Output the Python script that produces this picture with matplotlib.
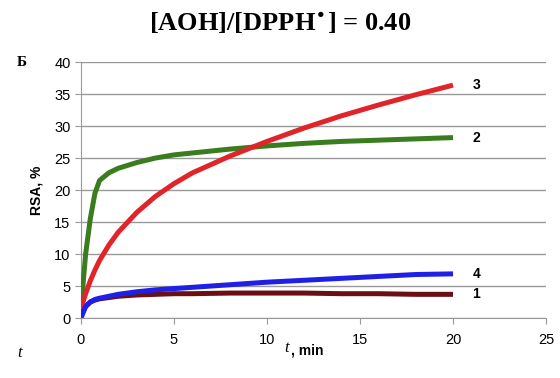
import matplotlib
matplotlib.use('Agg')
import matplotlib.pyplot as plt

# Tiempo (min) y curvas RSA (%)
t_min = [0, 0.25, 0.5, 0.75, 1, 1.5, 2, 3, 4, 5, 6, 8, 10, 12, 14, 16, 18, 20]
rsa_1 = [0.5, 1.8, 2.5, 2.8, 3.0, 3.2, 3.4, 3.6, 3.7, 3.8, 3.8, 3.9, 3.9, 3.9, 3.8, 3.8, 3.7, 3.7]
rsa_2 = [1.5, 10.0, 15.5, 19.5, 21.5, 22.7, 23.4, 24.3, 25.0, 25.5, 25.8, 26.4, 26.9, 27.3, 27.6, 27.8, 28.0, 28.2]
rsa_3 = [1.5, 3.8, 5.8, 7.5, 9.0, 11.4, 13.4, 16.5, 19.0, 21.0, 22.7, 25.3, 27.6, 29.7, 31.6, 33.3, 34.9, 36.4]
rsa_4 = [0.0, 1.8, 2.5, 2.9, 3.1, 3.4, 3.7, 4.1, 4.4, 4.6, 4.8, 5.2, 5.6, 5.9, 6.2, 6.5, 6.8, 6.9]

series = [('1', rsa_1, '#6b0f12'), ('2', rsa_2, '#3a7d1e'),
          ('3', rsa_3, '#e0252a'), ('4', rsa_4, '#1f1fe8')]
plt.rcParams['font.family'] = ['Liberation Sans', 'DejaVu Sans']

fig = plt.figure(figsize=(5.6, 3.78), dpi=100)
ax = fig.add_axes([0.1446, 0.1587, 0.8304, 0.677])

for nombre, y, color in series:
    ax.plot(t_min, y, color=color, lw=3.6, solid_capstyle='butt', zorder=3)
    ax.annotate(nombre, (t_min[-1], y[-1]), xytext=(14, 0), textcoords='offset points',
                va='center', ha='left', fontsize=10, fontweight='bold')

ax.set_xlim(0, 25)
ax.set_ylim(0, 40)
ax.set_xticks(range(0, 26, 5))
ax.set_yticks(range(0, 41, 5))
ax.yaxis.grid(True, color='#999999', lw=1.0)
ax.set_axisbelow(True)
for s in ['top', 'right']:
    ax.spines[s].set_visible(False)
for s in ['left', 'bottom']:
    ax.spines[s].set_color('#999999')
ax.tick_params(axis='both', colors='#999999', labelcolor='black', labelsize=10.5, length=4)
ax.tick_params(axis='x', pad=7)

ax.set_ylabel('RSA, %', fontsize=10, fontweight='bold', labelpad=8)
fig.text(0.515, 0.068, 't', fontsize=12, style='italic', family='Liberation Serif', ha='right')
fig.text(0.52, 0.063, ', min', fontsize=10, fontweight='bold', ha='left')
fig.text(0.03, 0.055, 't', fontsize=12, style='italic', family='Liberation Serif')
fig.text(0.03, 0.825, 'Б', fontsize=11, fontweight='bold', family='Liberation Serif')
fig.text(0.5, 0.94, r'[AOH]/[DPPH$^{\bullet}$] = 0.40', fontsize=19, fontweight='bold',
         family='Liberation Serif', ha='center', va='center')

fig.savefig('out.png', dpi=100)
